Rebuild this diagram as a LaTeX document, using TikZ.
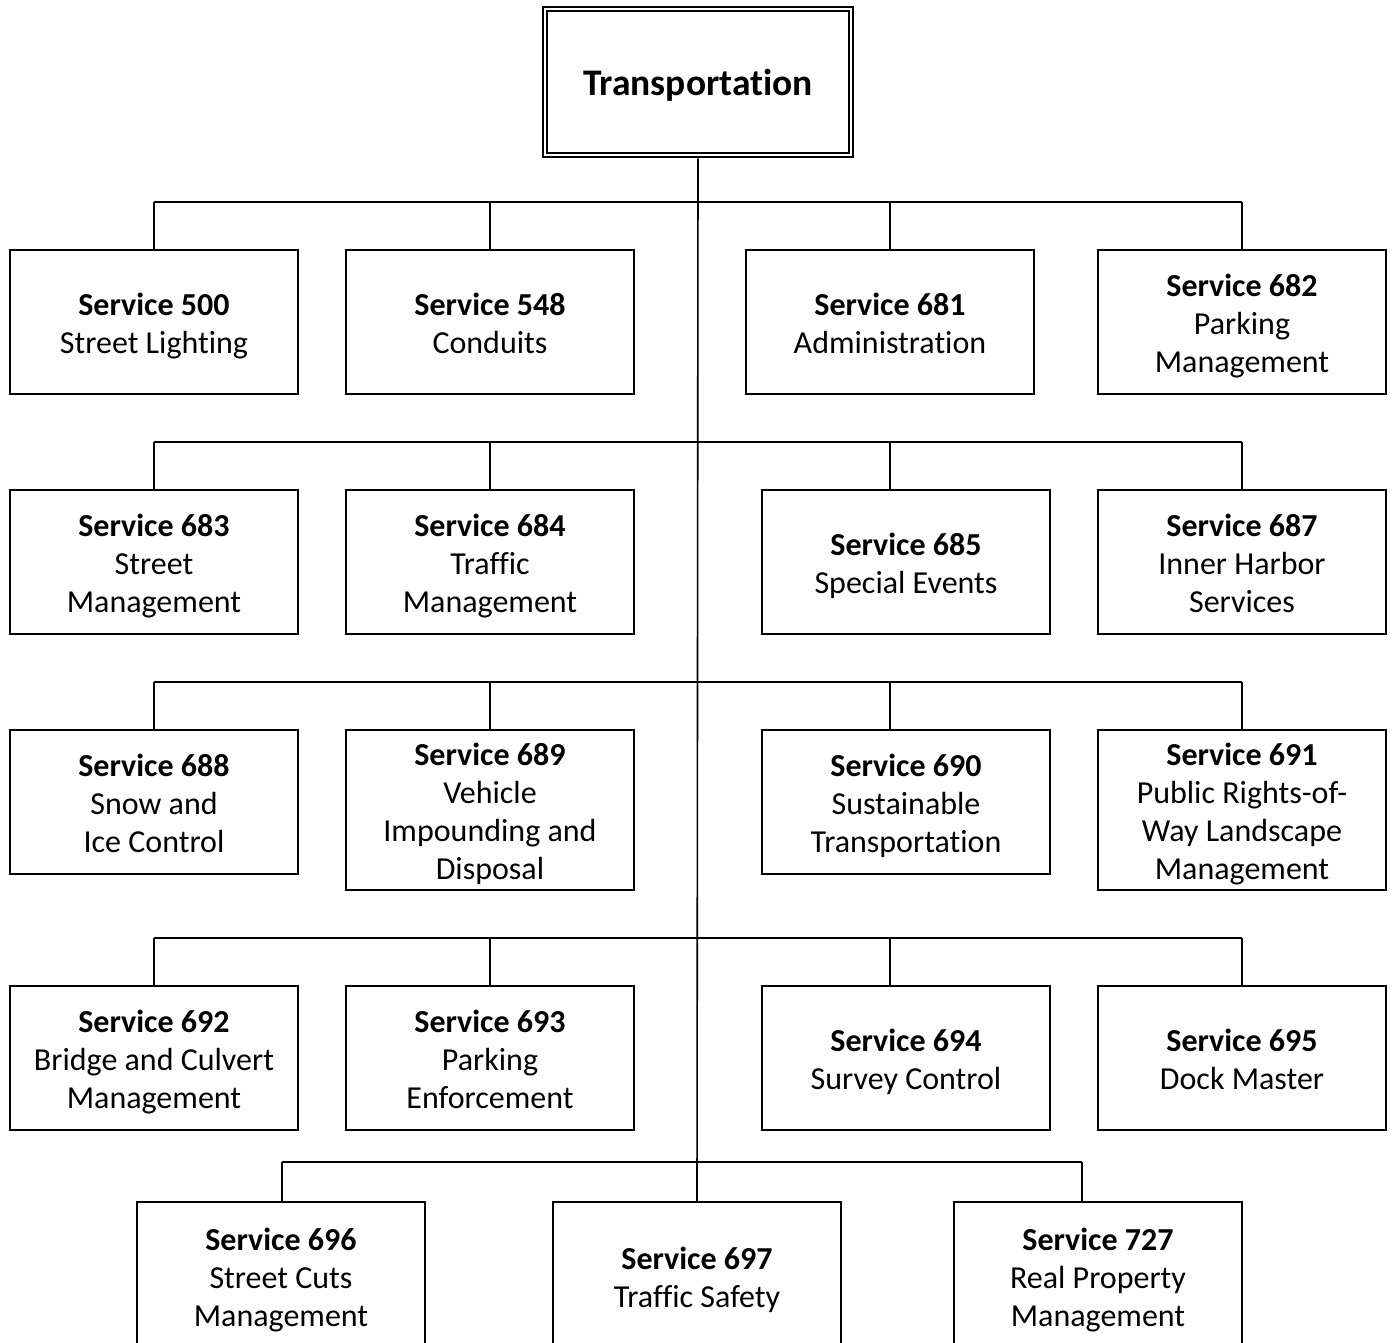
\documentclass[tikz,border=0pt]{standalone}
\usepackage{fontspec}
\setmainfont{Carlito}[Ligatures={NoCommon}]
\newcommand{\fstrut}{\rule{0pt}{33pt}}
\newcommand{\lstrut}{\rule[-8pt]{0pt}{8pt}}
\newcommand{\svc}[2]{\fstrut\textbf{Service #1}\\#2\lstrut}
\begin{document}
\begin{tikzpicture}[x=1pt,y=-1pt,
  box/.style={draw, line width=1.6pt, minimum width=288pt, minimum height=144pt, align=center, font=\fontsize{32}{38}\selectfont, inner sep=0pt},
  tall/.style={box, minimum height=160pt},
  cut/.style={box, minimum height=148pt},
  link/.style={line width=1.6pt}]
\path[use as bounding box] (0,0) rectangle (1392,1343);
\fill[white] (0,0) rectangle (1392,1343);
\clip (0,0) rectangle (1392,1343);

% top
\node[draw, line width=2.6pt, minimum width=310pt, minimum height=150pt, inner sep=0pt,
      font=\fontsize{37.5}{45}\selectfont\bfseries] (top) at (698,82)
      {\rule[-9.4pt]{0pt}{45pt}Transportation};
\draw[line width=1.8pt] ([shift={(5,5)}]top.north west) rectangle ([shift={(-5,-5)}]top.south east);

% row 1
\node[box] (s500) at (154,322) {\svc{500}{Street Lighting}};
\node[box] (s548) at (490,322) {\svc{548}{Conduits}};
\node[box] (s681) at (890,322) {\svc{681}{Administration}};
\node[box] (s682) at (1242,322) {\svc{682}{Parking\\Management}};
% row 2
\node[box] (s683) at (154,562) {\svc{683}{Street\\Management}};
\node[box] (s684) at (490,562) {\svc{684}{Traffic\\Management}};
\node[box] (s685) at (906,562) {\svc{685}{Special Events}};
\node[box] (s687) at (1242,562) {\svc{687}{Inner Harbor\\Services}};
% row 3
\node[box] (s688) at (154,802) {\svc{688}{Snow and\\Ice Control}};
\node[tall] (s689) at (490,810) {\svc{689}{Vehicle\\Impounding and\\Disposal}};
\node[box] (s690) at (906,802) {\svc{690}{Sustainable\\Transportation}};
\node[tall] (s691) at (1242,810) {\svc{691}{Public Rights-of-\\Way Landscape\\Management}};
% row 4
\node[box] (s692) at (154,1058) {\svc{692}{Bridge and Culvert\\Management}};
\node[box] (s693) at (490,1058) {\svc{693}{Parking\\Enforcement}};
\node[box] (s694) at (906,1058) {\svc{694}{Survey Control}};
\node[box] (s695) at (1242,1058) {\svc{695}{Dock Master}};
% row 5
\node[cut] (s696) at (281,1276) {\svc{696}{Street Cuts\\Management}};
\node[cut] (s697) at (697,1276) {\svc{697}{Traffic Safety}};
\node[cut] (s727) at (1098,1276) {\svc{727}{Real Property\\Management}};

% trunk
\draw[link] (top.south) -- (s697.north);

% bus 1
\coordinate (a1) at (154,202); \coordinate (a2) at (490,202);
\coordinate (a3) at (890,202); \coordinate (a4) at (1242,202);
\draw[link] (a1) -- (a4);
\draw[link] (a1) -- (s500.north);
\draw[link] (a2) -- (a2 |- s548.north);
\draw[link] (a3) -- (a3 |- s681.north);
\draw[link] (a4) -- (a4 |- s682.north);

% bus 2
\coordinate (b1) at (154,442); \coordinate (b2) at (490,442);
\coordinate (b3) at (890,442); \coordinate (b4) at (1242,442);
\draw[link] (b1) -- (b4);
\draw[link] (b1) -- (b1 |- s683.north);
\draw[link] (b2) -- (b2 |- s684.north);
\draw[link] (b3) -- (b3 |- s685.north);
\draw[link] (b4) -- (b4 |- s687.north);

% bus 3
\coordinate (c1) at (154,682); \coordinate (c2) at (490,682);
\coordinate (c3) at (890,682); \coordinate (c4) at (1242,682);
\draw[link] (c1) -- (c4);
\draw[link] (c1) -- (c1 |- s688.north);
\draw[link] (c2) -- (c2 |- s689.north);
\draw[link] (c3) -- (c3 |- s690.north);
\draw[link] (c4) -- (c4 |- s691.north);

% bus 4
\coordinate (d1) at (154,938); \coordinate (d2) at (490,938);
\coordinate (d3) at (890,938); \coordinate (d4) at (1242,938);
\draw[link] (d1) -- (d4);
\draw[link] (d1) -- (d1 |- s692.north);
\draw[link] (d2) -- (d2 |- s693.north);
\draw[link] (d3) -- (d3 |- s694.north);
\draw[link] (d4) -- (d4 |- s695.north);

% bus 5
\coordinate (e1) at (282,1162); \coordinate (e3) at (1082,1162);
\draw[link] (e1) -- (e3);
\draw[link] (e1) -- (e1 |- s696.north);
\draw[link] (e3) -- (e3 |- s727.north);
\end{tikzpicture}
\end{document}
